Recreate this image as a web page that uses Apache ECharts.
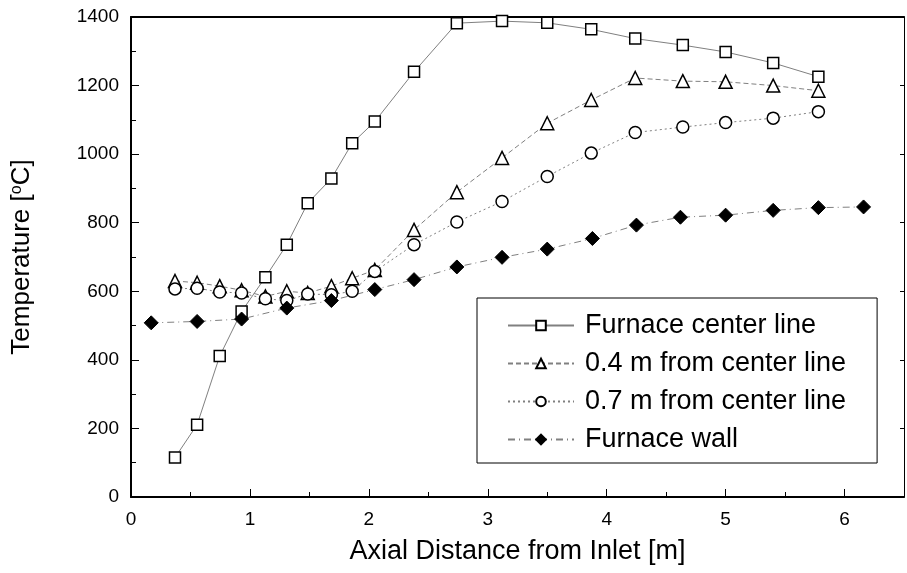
<!DOCTYPE html>
<html>
<head>
<meta charset="utf-8">
<script src="https://cdn.jsdelivr.net/npm/echarts@6/dist/echarts.min.js"></script>
<style>
  html, body { margin: 0; padding: 0; background: #fff; }
  #main { width: 907px; height: 573px; }
</style>
</head>
<body>
<div id="main"></div>
<script>
// axial positions [m]
const xProbe = [0.37, 0.556, 0.746, 0.93, 1.13, 1.31, 1.486, 1.685, 1.86, 2.05, 2.38, 2.74, 3.12, 3.50, 3.87, 4.24, 4.64, 5.0, 5.40, 5.78];
const xWall = [0.17, 0.556, 0.93, 1.31, 1.685, 2.05, 2.38, 2.74, 3.12, 3.50, 3.88, 4.25, 4.62, 5.0, 5.40, 5.78, 6.16];

// temperatures [oC]
const centerLine = [115, 211, 411, 541, 641, 736, 857, 929, 1032, 1095, 1240, 1382, 1388, 1383, 1364, 1337, 1318, 1298, 1266, 1226];
const from04 = [630, 625, 615, 603, 585, 600, 595, 615, 638, 662, 779, 889, 989, 1090, 1158, 1222, 1213, 1211, 1200, 1185];
const from07 = [607, 609, 598, 595, 578, 573, 592, 590, 600, 658, 736, 802, 862, 935, 1003, 1063, 1079, 1092, 1105, 1124];
const wall = [508, 512, 519, 551, 573, 605, 634, 671, 699, 723, 754, 793, 816, 822, 836, 844, 846];

const seriesNames = ["Furnace center line", "0.4 m from center line", "0.7 m from center line", "Furnace wall"];

const pair = (xs, ys) => xs.map((x, i) => [x, ys[i]]);

const font = "'Liberation Sans', Arial, sans-serif";

const chart = echarts.init(document.getElementById("main"));

const hollow = { color: "#fff", borderColor: "#000", borderWidth: 1.5 };

const option = {
  animation: false,
  backgroundColor: "#fff",
  textStyle: { fontFamily: font, color: "#000" },
  grid: { left: 131, right: 2, top: 17, bottom: 76 },
  legend: {
    orient: "vertical",
    left: 477,
    top: 298,
    padding: [14, 31, 10, 30],
    itemGap: 11,
    itemWidth: 66,
    itemHeight: 12,
    borderColor: "#000",
    borderWidth: 1,
    backgroundColor: "#fff",
    textStyle: { fontSize: 27, fontFamily: font, color: "#000", padding: [0, 0, 0, 6] },
    data: seriesNames,
  },
  xAxis: [
    {
      type: "value",
      min: 0,
      max: 6.5,
      interval: 1,
      name: "Axial Distance from Inlet [m]",
      nameLocation: "middle",
      nameGap: 41,
      nameTextStyle: { fontSize: 27, fontFamily: font, color: "#000" },
      axisLine: { onZero: false, lineStyle: { color: "#000", width: 2 } },
      axisTick: { inside: true, length: 8, lineStyle: { color: "#000" } },
      minorTick: { show: true, splitNumber: 2, length: 5, lineStyle: { color: "#000" } },
      splitLine: { show: false },
      axisLabel: {
        fontSize: 19,
        color: "#000",
        margin: 13,
        formatter: (v) => (Number.isInteger(v) ? String(v) : ""),
      },
    },
    {
      type: "value",
      position: "top",
      min: 0,
      max: 6.5,
      axisLine: { onZero: false, lineStyle: { color: "#000", width: 2 } },
      axisTick: { show: false },
      axisLabel: { show: false },
      splitLine: { show: false },
    },
  ],
  yAxis: [
    {
      type: "value",
      min: 0,
      max: 1400,
      interval: 200,
      name: "Temperature [{sup|o}C]",
      nameLocation: "middle",
      nameGap: 96,
      nameTextStyle: {
        fontSize: 26,
        fontFamily: font,
        color: "#000",
        rich: { sup: { fontSize: 16, fontFamily: font, color: "#000", verticalAlign: "top", padding: [0, 0, 10, 0] } },
      },
      axisLine: { onZero: false, lineStyle: { color: "#000", width: 2 } },
      axisTick: { inside: true, length: 8, lineStyle: { color: "#000" } },
      minorTick: { show: true, splitNumber: 2, length: 5, lineStyle: { color: "#000" } },
      splitLine: { show: false },
      axisLabel: { fontSize: 19, color: "#000", margin: 12, formatter: (v) => String(v) },
    },
    {
      type: "value",
      position: "right",
      min: 0,
      max: 1400,
      interval: 200,
      axisLine: { onZero: false, lineStyle: { color: "#000", width: 1 } },
      axisTick: { inside: true, length: 4, lineStyle: { color: "#000" } },
      axisLabel: { show: false },
      splitLine: { show: false },
    },
  ],
  series: [
    {
      name: seriesNames[0],
      type: "line",
      data: pair(xProbe, centerLine),
      symbol: "rect",
      symbolSize: 11,
      itemStyle: hollow,
      lineStyle: { color: "#808080", width: 1, type: "solid" },
    },
    {
      name: seriesNames[1],
      type: "line",
      data: pair(xProbe, from04),
      symbol: "triangle",
      symbolSize: 13,
      itemStyle: hollow,
      lineStyle: { color: "#808080", width: 1, type: [5, 3] },
    },
    {
      name: seriesNames[2],
      type: "line",
      data: pair(xProbe, from07),
      symbol: "circle",
      symbolSize: 12,
      itemStyle: hollow,
      lineStyle: { color: "#808080", width: 1, type: [2, 3] },
    },
    {
      name: seriesNames[3],
      type: "line",
      data: pair(xWall, wall),
      symbol: "diamond",
      symbolSize: 14,
      itemStyle: { color: "#000", borderColor: "#000", borderWidth: 1 },
      lineStyle: { color: "#808080", width: 1, type: [7, 4, 1, 4] },
    },
  ],
};

chart.setOption(option);
</script>
</body>
</html>
